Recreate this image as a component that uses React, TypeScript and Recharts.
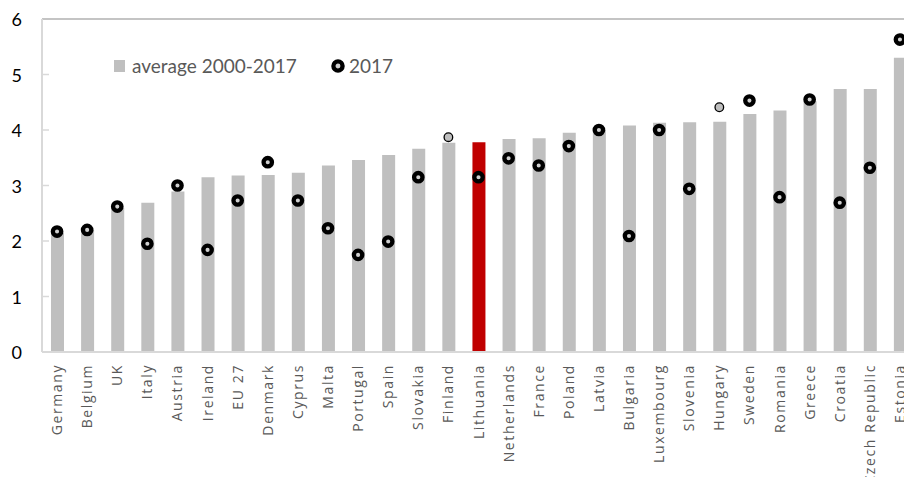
import React from "react";
import { ComposedChart, Bar, Line, XAxis, YAxis, Cell, ReferenceLine } from "recharts";

const countries = [
  "Germany", "Belgium", "UK", "Italy", "Austria", "Ireland", "EU 27", "Denmark", "Cyprus", "Malta",
  "Portugal", "Spain", "Slovakia", "Finland", "Lithuania", "Netherlands", "France", "Poland", "Latvia",
  "Bulgaria", "Luxembourg", "Slovenia", "Hungary", "Sweden", "Romania", "Greece", "Croatia",
  "Czech Republic", "Estonia",
];
const average20002017 = [
  2.15, 2.2, 2.6, 2.69, 2.89, 3.15, 3.18, 3.19, 3.23, 3.36,
  3.46, 3.55, 3.66, 3.77, 3.78, 3.84, 3.85, 3.95, 4.0,
  4.08, 4.13, 4.14, 4.15, 4.29, 4.35, 4.52, 4.74,
  4.74, 5.3,
];
const values2017 = [
  2.17, 2.2, 2.62, 1.95, 3.0, 1.84, 2.73, 3.42, 2.73, 2.23,
  1.75, 1.99, 3.15, 3.87, 3.15, 3.49, 3.36, 3.71, 4.0,
  2.09, 4.0, 2.94, 4.41, 4.53, 2.79, 4.55, 2.69,
  3.32, 5.63,
];
const altMarkerCountries = ["Finland", "Hungary"];
const highlightCountry = "Lithuania";
const yTicks = [0, 1, 2, 3, 4, 5, 6];
const legendLabels = ["average 2000-2017", "2017"];

const data = countries.map((name, i) => ({
  name,
  avg: average20002017[i],
  v2017: values2017[i],
}));

const GRAY = "#bfbfbf";
const RED = "#c00000";
const AXIS = "#d9d9d9";

const YTick = (props: any) => {
  const { x, y, payload } = props;
  const v = payload.value;
  return (
    <g>
      <text x={x - 20} y={y} textAnchor="end" dominantBaseline="central" fontFamily="Lato" fontSize={18} fill="#000">
        {v}
      </text>
      {v > 0 && v < 6 ? <line x1={x} x2={x + 7} y1={y} y2={y} stroke={AXIS} strokeWidth={1.5} /> : null}
    </g>
  );
};

const XTick = (props: any) => {
  const { x, y, payload } = props;
  return (
    <g transform={`translate(${x},${y}) rotate(-90)`}>
      <text x={-12} y={5} textAnchor="end" fontFamily="'Open Sans'" fontSize={14} letterSpacing={1.6} fill="#595959">
        {payload.value}
      </text>
    </g>
  );
};

const Dot = (props: any) => {
  const { cx, cy, payload, index } = props;
  if (cx == null || cy == null) return <g key={index} />;
  if (altMarkerCountries.includes(payload.name)) {
    return <circle key={index} cx={cx} cy={cy} r={4.3} fill={GRAY} stroke="#000" strokeWidth={1.3} />;
  }
  return <circle key={index} cx={cx} cy={cy} r={4.2} fill="#d0d0d0" stroke="#000" strokeWidth={4.3} />;
};

export default function App() {
  return (
    <div style={{ position: "fixed", top: 0, left: 0, width: 904, height: 477, overflow: "hidden", background: "#fff" }}>
      <ComposedChart width={915} height={477} data={data} margin={{ top: 19, right: 0, bottom: 0, left: 0 }}>
        <XAxis
          dataKey="name"
          interval={0}
          height={125}
          tickSize={0}
          tickMargin={0}
          tick={<XTick />}
          axisLine={{ stroke: AXIS, strokeWidth: 2 }}
          tickLine={false}
        />
        <YAxis
          domain={[0, 6]}
          ticks={yTicks}
          width={42}
          tickSize={0}
          tickMargin={0}
          tick={<YTick />}
          axisLine={{ stroke: AXIS, strokeWidth: 2 }}
          tickLine={false}
          interval={0}
        />
        <ReferenceLine y={6} stroke="#b0b0b0" strokeWidth={1.5} />
        <Bar dataKey="avg" barSize={13} isAnimationActive={false} legendType="none">
          {data.map((d, i) => (
            <Cell key={i} fill={d.name === highlightCountry ? RED : GRAY} />
          ))}
        </Bar>
        <Line
          dataKey="v2017"
          stroke="none"
          strokeWidth={0}
          dot={Dot}
          activeDot={false}
          isAnimationActive={false}
          legendType="none"
        />
      </ComposedChart>
      <div
        style={{
          position: "absolute",
          top: 53,
          left: 114,
          display: "flex",
          alignItems: "center",
          fontFamily: "Lato",
          fontSize: 19,
          color: "#595959",
          lineHeight: "26px",
          whiteSpace: "nowrap",
        }}
      >
        <span style={{ display: "inline-block", width: 11, height: 12, background: GRAY, marginRight: 7 }} />
        <span>{legendLabels[0]}</span>
        <svg width={16} height={16} style={{ marginLeft: 33, marginRight: 3 }}>
          <circle cx={8} cy={8} r={4.6} fill="#d0d0d0" stroke="#000" strokeWidth={4.3} />
        </svg>
        <span>{legendLabels[1]}</span>
      </div>
    </div>
  );
}
